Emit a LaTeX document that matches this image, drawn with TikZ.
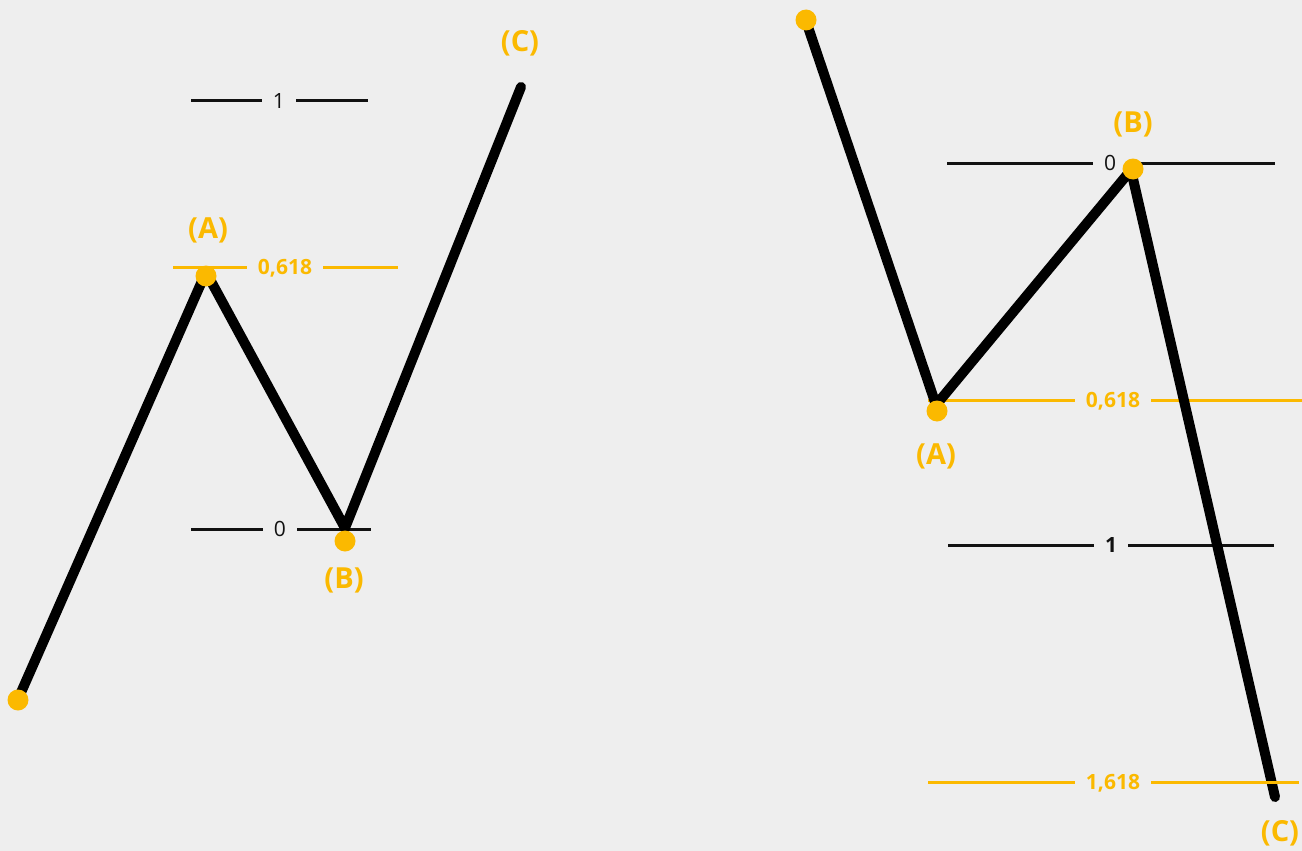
\documentclass[tikz,border=0pt]{standalone}
\usepackage{fontspec}
\setmainfont{Open Sans}
\definecolor{fibo}{RGB}{251,185,0}
\definecolor{paper}{RGB}{238,238,238}
\definecolor{ink}{RGB}{17,17,17}
\tikzset{
  wave/.style={line width=10pt, line cap=round, line join=round},
  pivot/.style={circle, fill=fibo, minimum size=21pt, inner sep=0pt},
  tag/.style={text=fibo, font=\fontsize{29}{29}\selectfont\bfseries},
  lvl/.style={font=\fontsize{21}{21}\selectfont, inner xsep=11pt, inner ysep=0pt, text depth=0pt, text=ink},
  lvlline/.style={line width=3pt, draw=ink},
  fiblvl/.style={lvl, text=fibo, font=\fontsize{21}{21}\selectfont\bfseries},
  fibline/.style={line width=3pt, draw=fibo},
}
\begin{document}
\begin{tikzpicture}[x=1pt,y=-1pt]
\fill[paper] (0,0) rectangle (1302,851);
\useasboundingbox (0,0) rectangle (1302,851);

% left: retracement
\node[lvl] (lone) at (279,101) {1};
\coordinate (lonew) at (191,101);
\coordinate (lonee) at (368,101);
\draw[lvlline] (lonew) -- (lone) -- (lonee);
\node[fiblvl] (lfib) at (285,267) {0,618};
\coordinate (lfibw) at (173,267);
\coordinate (lfibe) at (398,267);
\draw[fibline] (lfibw) -- (lfib) -- (lfibe);
\node[lvl] (lzero) at (280,529) {0};
\coordinate (lzerow) at (191,529);
\coordinate (lzeroe) at (371,529);
\draw[lvlline] (lzerow) -- (lzero) -- (lzeroe);

\coordinate (s1) at (19,697);
\coordinate (a1) at (206,272);
\coordinate (b1) at (345,528);
\coordinate (c1) at (521,87);
\draw[wave] (s1) -- (a1) -- (b1) -- (c1);
\node[pivot] (ds1) at (18,700) {};
\node[pivot] (da1) at (206,276) {};
\node[pivot] (db1) at (345,541) {};
\node[tag] (ta1) at (208,230) {(A)};
\node[tag] (tb1) at (344,580) {(B)};
\node[tag] (tc1) at (520,43) {(C)};

% right: extension
\node[lvl] (rzero) at (1110,163) {0};
\coordinate (rzerow) at (947,163);
\coordinate (rzeroe) at (1275,163);
\draw[lvlline] (rzerow) -- (rzero) -- (rzeroe);
\node[fiblvl] (rfib) at (1113,400) {0,618};
\coordinate (rfibw) at (928,400);
\coordinate (rfibe) at (1302,400);
\draw[fibline] (rfibw) -- (rfib) -- (rfibe);
\node[lvl, font=\fontsize{21}{21}\selectfont\bfseries] (rone) at (1111,545) {1};
\coordinate (ronew) at (948,545);
\coordinate (ronee) at (1274,545);
\draw[lvlline] (ronew) -- (rone) -- (ronee);

\coordinate (s2) at (806,21);
\coordinate (a2) at (936,405);
\coordinate (b2) at (1131,170);
\coordinate (c2) at (1275,797);
\draw[wave] (s2) -- (a2) -- (b2) -- (c2);

\node[fiblvl] (rext) at (1113,782) {1,618};
\coordinate (rextw) at (928,782);
\coordinate (rexte) at (1299,782);
\draw[fibline] (rextw) -- (rext) -- (rexte);

\node[pivot] (ds2) at (806,20) {};
\node[pivot] (da2) at (937,411) {};
\node[pivot] (db2) at (1133,169) {};
\node[tag] (tb2) at (1133,124) {(B)};
\node[tag] (ta2) at (936,456) {(A)};
\node[tag] (tc2) at (1280,833) {(C)};
\end{tikzpicture}
\end{document}
